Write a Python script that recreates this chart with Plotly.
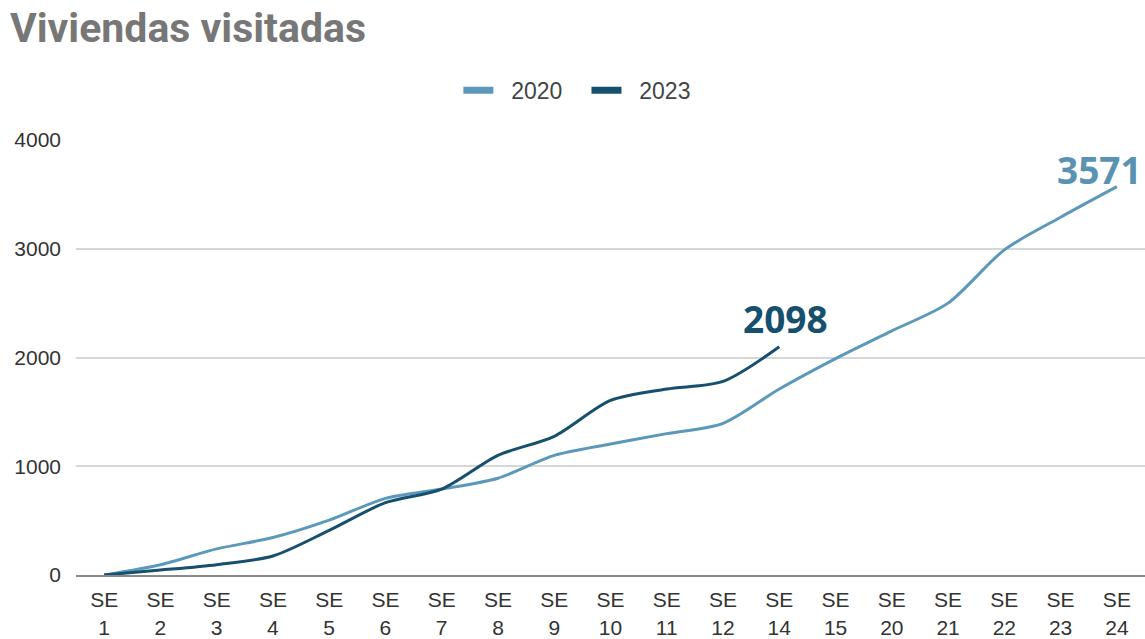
import plotly.graph_objects as go

categories = ["SE 1", "SE 2", "SE 3", "SE 4", "SE 5", "SE 6", "SE 7", "SE 8", "SE 9",
              "SE 10", "SE 11", "SE 12", "SE 14", "SE 15", "SE 20", "SE 21", "SE 22",
              "SE 23", "SE 24"]
values_2020 = [0, 95, 240, 345, 505, 705, 790, 890, 1100, 1205, 1300, 1395, 1710,
               1990, 2245, 2500, 2990, 3290, 3571]
values_2023 = [0, 45, 95, 175, 410, 665, 790, 1100, 1275, 1605, 1710, 1780, 2098]
tick_labels = [c.replace(" ", "<br>") for c in categories]
y_ticks = [0, 1000, 2000, 3000, 4000]

c2020 = "#5b98b9"
c2023 = "#16506e"
NB = "\u00a0"

fig = go.Figure()
fig.add_trace(go.Scatter(x=categories, y=values_2020, name="2020", mode="lines",
                         showlegend=False, hoverinfo="skip",
                         line=dict(color=c2020, width=3, shape="spline", smoothing=0.8)))
fig.add_trace(go.Scatter(x=categories[:len(values_2023)], y=values_2023, name="2023",
                         mode="lines", showlegend=False, hoverinfo="skip",
                         line=dict(color=c2023, width=3, shape="spline", smoothing=0.8)))
# legend entries with thick swatches
fig.add_trace(go.Scatter(x=[None], y=[None], name=NB * 2 + "2020" + NB * 3, mode="lines",
                         line=dict(color=c2020, width=7)))
fig.add_trace(go.Scatter(x=[None], y=[None], name=NB * 2 + "2023", mode="lines",
                         line=dict(color=c2023, width=7)))

fig.add_annotation(x=categories[len(values_2023) - 1], y=values_2023[-1],
                   text="<b>2098</b>", showarrow=False, xanchor="center",
                   yanchor="middle", xshift=6, yshift=28,
                   font=dict(family="Open Sans", size=37, color=c2023))
fig.add_annotation(x=categories[-1], y=values_2020[-1],
                   text="<b>3571</b>", showarrow=False, xanchor="right",
                   yanchor="middle", xshift=27, yshift=17,
                   font=dict(family="Open Sans", size=37, color="#5a93b2"))

fig.update_layout(
    width=1145, height=639,
    margin=dict(l=76, r=0, t=140, b=58),
    paper_bgcolor="white", plot_bgcolor="white",
    title=dict(text="<b>Viviendas visitadas</b>", x=0.0087, xanchor="left",
               y=0.956, yanchor="middle",
               font=dict(family="Roboto", size=41, color="#777777")),
    legend=dict(orientation="h", x=0.469, xanchor="center", y=1.114, yanchor="middle",
                font=dict(family="Liberation Sans, Arial", size=23, color="#444444"),
                traceorder="normal"),
    font=dict(family="Liberation Sans, Arial", size=21, color="#333333"),
)
fig.update_xaxes(type="category", tickvals=categories, ticktext=tick_labels,
                 range=[-0.5, len(categories) - 0.5], showgrid=False,
                 showline=True, linecolor="#8a8a8a", linewidth=2,
                 ticks="", ticklabelstandoff=5,
                 tickfont=dict(size=21, color="#333333"))
fig.update_yaxes(range=[0, 4000], tickvals=y_ticks, showgrid=True,
                 gridcolor="#d6d6d6", gridwidth=1.5, zeroline=False,
                 ticks="", ticklabelstandoff=14,
                 tickfont=dict(size=21, color="#333333"))

fig.write_html("out.html", config={"displayModeBar": False},
               post_script="document.body.style.margin='0';"
                           "document.body.style.overflow='hidden';")
